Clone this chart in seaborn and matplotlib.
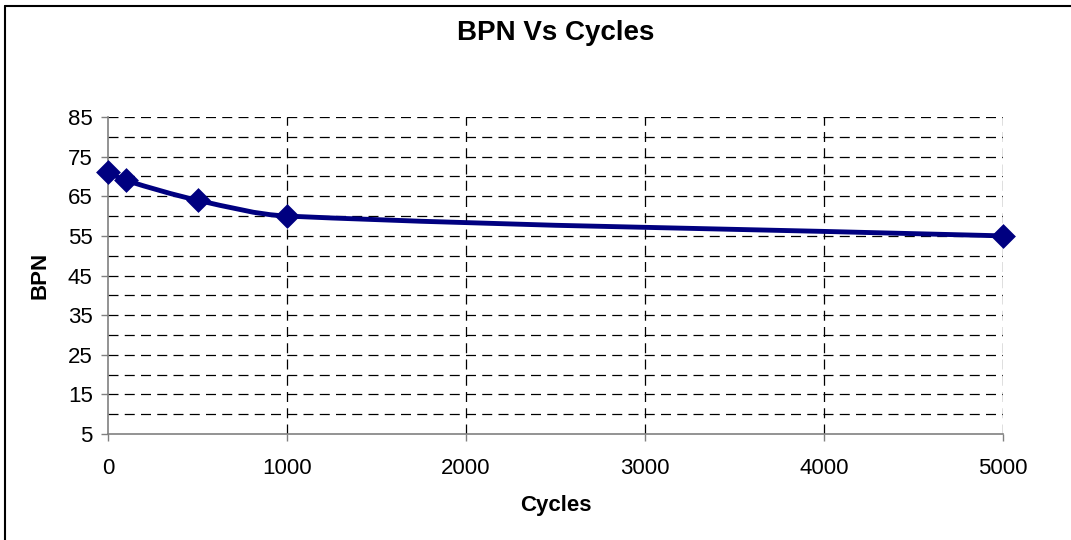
import numpy as np
import matplotlib
matplotlib.use("Agg")
import matplotlib.pyplot as plt
from matplotlib.path import Path
from matplotlib.patches import PathPatch
import seaborn as sns
import pandas as pd

cycles = [0, 100, 500, 1000, 5000]
bpn = [71, 69, 64, 60, 55]
x_ticks = [0, 1000, 2000, 3000, 4000, 5000]
y_ticks = [5, 15, 25, 35, 45, 55, 65, 75, 85]

sns.set_theme(style="white")
plt.rcParams["font.family"] = ["Liberation Sans", "DejaVu Sans"]
plt.rcParams["text.color"] = "black"
plt.rcParams["axes.labelcolor"] = "black"
plt.rcParams["xtick.color"] = "black"
plt.rcParams["ytick.color"] = "black"

df = pd.DataFrame({"Cycles": cycles, "BPN": bpn})
navy = "#000080"

fig = plt.figure(figsize=(10.71, 5.4), dpi=100)
ax = fig.add_axes([108 / 1071, 1 - 434 / 540, (1003 - 108) / 1071, (434 - 117) / 540])

# grid
for y in range(10, 90, 5):
    ax.axhline(y, color="#000000", lw=0.9, ls=(0, (8, 5)), zorder=1)
for x in x_ticks[1:]:
    ax.axvline(x, color="#000000", lw=0.9, ls=(0, (8, 5)), zorder=1)

# smoothed line through the data points (cubic Hermite as bezier segments)
xs = df["Cycles"].to_numpy(float)
ys = df["BPN"].to_numpy(float)
n = len(xs)
m = np.empty(n)
m[0] = (ys[1] - ys[0]) / (xs[1] - xs[0])
m[-1] = (ys[-1] - ys[-2]) / (xs[-1] - xs[-2])
for i in range(1, n - 1):
    m[i] = (ys[i + 1] - ys[i - 1]) / (xs[i + 1] - xs[i - 1])
verts = [(xs[0], ys[0])]
codes = [Path.MOVETO]
for i in range(n - 1):
    h = (xs[i + 1] - xs[i]) / 3
    verts += [(xs[i] + h, ys[i] + m[i] * h),
              (xs[i + 1] - h, ys[i + 1] - m[i + 1] * h),
              (xs[i + 1], ys[i + 1])]
    codes += [Path.CURVE4] * 3
ax.add_patch(PathPatch(Path(verts, codes), fill=False, edgecolor=navy, lw=3.5,
                       capstyle="round", joinstyle="round", zorder=3))

sns.scatterplot(data=df, x="Cycles", y="BPN", ax=ax, marker="D", s=160,
                color=navy, edgecolor=navy, linewidth=0, zorder=4, legend=False)

ax.set_xlim(0, 5000)
ax.set_ylim(5, 85)
ax.set_xticks(x_ticks)
ax.set_yticks(y_ticks)
ax.tick_params(axis="both", labelsize=16, length=5, width=1, color="#808080",
               labelcolor="black", direction="out", bottom=True, left=True)
ax.tick_params(axis="x", pad=12)
ax.tick_params(axis="y", pad=6)
ax.set_xlabel("Cycles", fontsize=16, fontweight="bold")
ax.set_ylabel("BPN", fontsize=16, fontweight="bold")
ax.xaxis.set_label_coords((556 - 108) / 895, (434 - 505) / 317)
ax.yaxis.set_label_coords((40 - 108) / 895, 0.5)
ax.xaxis.label.set_va("center")
ax.yaxis.label.set_va("center")

for s in ["top", "right"]:
    ax.spines[s].set_visible(False)
for s in ["left", "bottom"]:
    ax.spines[s].set_color("#808080")
    ax.spines[s].set_linewidth(1.2)
for c in ax.collections:
    c.set_clip_on(False)

fig.text(556 / 1071, 1 - 33 / 540, "BPN Vs Cycles", ha="center", va="center",
         fontsize=20, fontweight="bold")

# outer chart border
fig.add_artist(plt.Line2D([5 / 1071, 5 / 1071], [0, 1 - 6 / 540], color="black", lw=1.5))
fig.add_artist(plt.Line2D([5 / 1071, 1], [1 - 6 / 540, 1 - 6 / 540], color="black", lw=1.5))

fig.savefig("out.png", dpi=100)
